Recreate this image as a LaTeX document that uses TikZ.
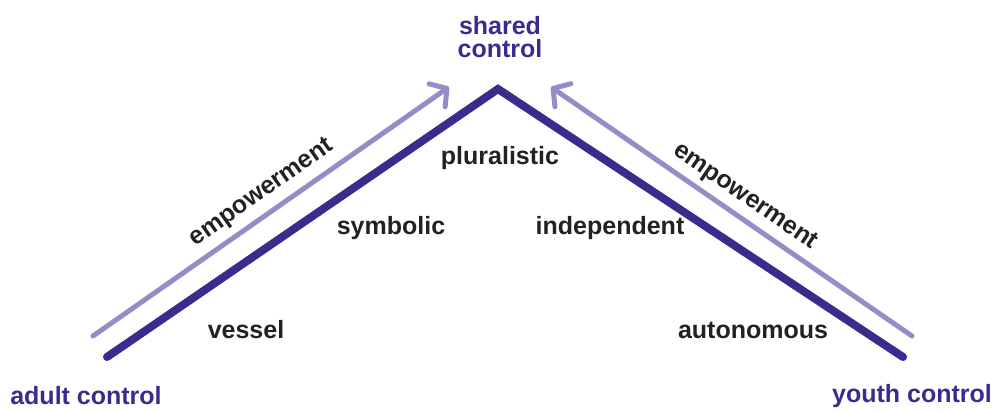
\documentclass[tikz,border=0pt]{standalone}
\usepackage{fontspec}
\setmainfont{Liberation Sans}
\usetikzlibrary{arrows.meta}
\definecolor{darkline}{RGB}{56,45,140}
\definecolor{lightline}{RGB}{150,140,200}
\definecolor{labeltext}{RGB}{34,34,34}
\begin{document}
\begin{tikzpicture}[x=1pt,y=-1pt,
  ridge/.style={draw=darkline,line width=8pt,line cap=round,line join=miter},
  emparrow/.style={draw=lightline,line width=5pt,line cap=round,
    -{Straight Barb[length=12pt,width=28pt,line cap=round,line join=round]}},
  stage/.style={font=\bfseries\fontsize{25}{27}\selectfont,text=labeltext,inner sep=0pt},
  pole/.style={font=\bfseries\fontsize{25}{27}\selectfont,text=darkline,inner sep=0pt,align=center},
  emp/.style={font=\bfseries\fontsize{25}{27}\selectfont,text=labeltext,inner sep=0pt}]
\useasboundingbox (0,0) rectangle (995,410);
\coordinate (L) at (107,357);
\coordinate (A) at (498,89);
\coordinate (R) at (903,357);
\coordinate (LL) at (93,336);
\coordinate (LT) at (449,87);
\coordinate (RL) at (912,336);
\coordinate (RT) at (551,87);
\draw[ridge] (L) -- (A) -- (R);
\draw[emparrow] (LL) -- (LT);
\draw[emparrow] (RL) -- (RT);
\node[pole] (shared) at (500,37) {shared\\[-4pt]control};
\node[pole] (adult) at (86,396) {adult control};
\node[pole] (youth) at (912,396) {youth control};
\node[stage] (vessel) at (246,330) {vessel};
\node[stage] (symbolic) at (391,228) {symbolic};
\node[stage] (pluralistic) at (500,158) {pluralistic};
\node[stage] (independent) at (610,228) {independent};
\node[stage] (autonomous) at (753,330) {autonomous};
\node[emp,rotate=35] (empL) at (262,193) {empowerment};
\node[emp,rotate=-34.5] (empR) at (745,197) {empowerment};
\end{tikzpicture}
\end{document}
